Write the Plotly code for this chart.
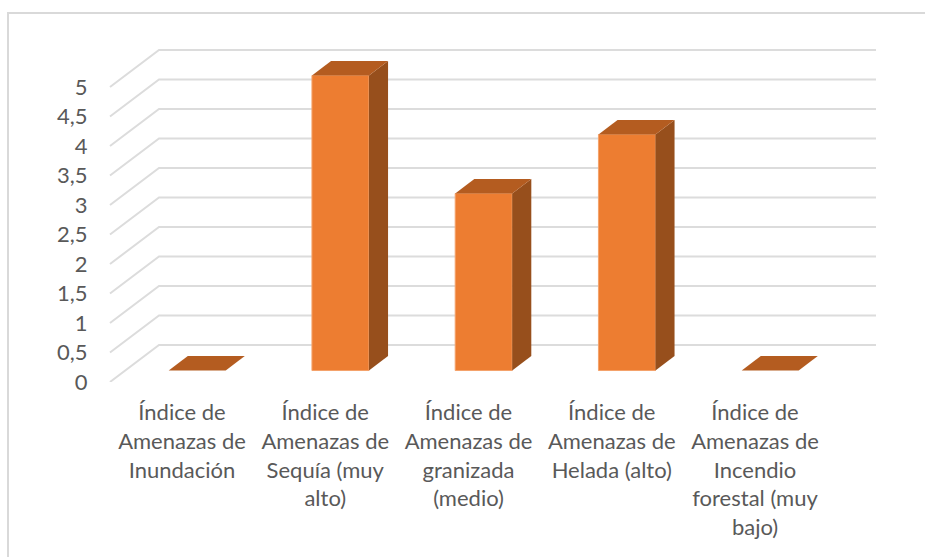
import plotly.graph_objects as go

categories = ["Índice de<br>Amenazas de<br>Inundación",
              "Índice de<br>Amenazas de<br>Sequía (muy<br>alto)",
              "Índice de<br>Amenazas de<br>granizada<br>(medio)",
              "Índice de<br>Amenazas de<br>Helada (alto)",
              "Índice de<br>Amenazas de<br>Incendio<br>forestal (muy<br>bajo)"]
values = [0, 5, 3, 4, 0]
y_ticks = [0, 0.5, 1, 1.5, 2, 2.5, 3, 3.5, 4, 4.5, 5]
y_labels = ["0", "0,5", "1", "1,5", "2", "2,5", "3", "3,5", "4", "4,5", "5"]

W, H = 925, 557
PL, PR, PT, PB = 96, 890, 40, 382
X0, XSTEP = 182.0, 143.25
YSTEP = 59.0
xr = [(PL - X0) / XSTEP, (PR - X0) / XSTEP]
yr = [0, (PB - PT) / YSTEP]
DX, DY = 49 / XSTEP, 37 / YSTEP          # full floor depth in data units
HALF = 28.5 / XSTEP
LEFT, RIGHT = (110 - X0) / XSTEP, (827 - X0) / XSTEP
F, B = 0.31, 0.70                        # bar front / back depth fractions

fig = go.Figure()

gx, gy = [], []
for v in y_ticks:
    gx += [LEFT, LEFT + DX, RIGHT + DX, None]
    gy += [v, v + DY, v + DY, None]
fig.add_trace(go.Scatter(x=gx, y=gy, mode="lines", cliponaxis=False,
                         line=dict(color="#dcdcdc", width=2), hoverinfo="skip", showlegend=False))

for i, v in enumerate(values):
    xl, xr_ = i - HALF + F * DX, i + HALF + F * DX
    yb = F * DY
    dx, dy = (B - F) * DX, (B - F) * DY
    fig.add_trace(go.Scatter(x=[xr_, xr_ + dx, xr_ + dx, xr_, xr_], y=[yb, yb + dy, yb + v + dy, yb + v, yb],
                             xaxis="x2", yaxis="y2",
                             mode="lines", fill="toself", fillcolor="#974f1c", line=dict(width=0), showlegend=False, hoverinfo="skip"))
    fig.add_trace(go.Scatter(x=[xl, xr_, xr_ + dx, xl + dx, xl], y=[yb + v, yb + v, yb + v + dy, yb + v + dy, yb + v],
                             xaxis="x2", yaxis="y2",
                             mode="lines", fill="toself", fillcolor="#b45c20", line=dict(width=0), showlegend=False, hoverinfo="skip"))
    if v > 0:
        fig.add_trace(go.Bar(x=[i + F * DX], y=[v], base=[yb], width=[2 * HALF],
                             xaxis="x2", yaxis="y2",
                             marker=dict(color="#ed7d31", line=dict(color="#f4a26b", width=1)),
                             showlegend=False, hoverinfo="skip"))

fig.update_layout(
    width=W, height=H, autosize=False,
    margin=dict(l=PL, r=W - PR, t=PT, b=H - PB),
    paper_bgcolor="white", plot_bgcolor="rgba(0,0,0,0)",
    font=dict(family="Lato, Carlito, sans-serif", size=22, color="#595959"),
    xaxis=dict(range=xr, tickmode="array", tickvals=list(range(5)), ticktext=categories,
               showgrid=False, zeroline=False, showline=False, ticks="outside",
               ticklen=11, tickcolor="rgba(0,0,0,0)", tickangle=0),
    yaxis=dict(range=yr, tickmode="array", tickvals=y_ticks, ticktext=y_labels,
               showgrid=False, zeroline=False, showline=False, ticks="outside",
               ticklen=3, tickcolor="rgba(0,0,0,0)"),
    xaxis2=dict(range=xr, overlaying="x", visible=False),
    yaxis2=dict(range=yr, overlaying="y", visible=False),
    shapes=[dict(type="rect", xref="paper", yref="paper", layer="below",
                 x0=(8 - PL) / (PR - PL), x1=(940 - PL) / (PR - PL),
                 y0=(PB - 570) / (PB - PT), y1=(PB - 13) / (PB - PT),
                 line=dict(color="#d9d9d9", width=2))],
)
fig.write_html("out.html", config={"displayModeBar": False},
               post_script="document.body.style.margin='0';document.documentElement.style.overflow='hidden';")
